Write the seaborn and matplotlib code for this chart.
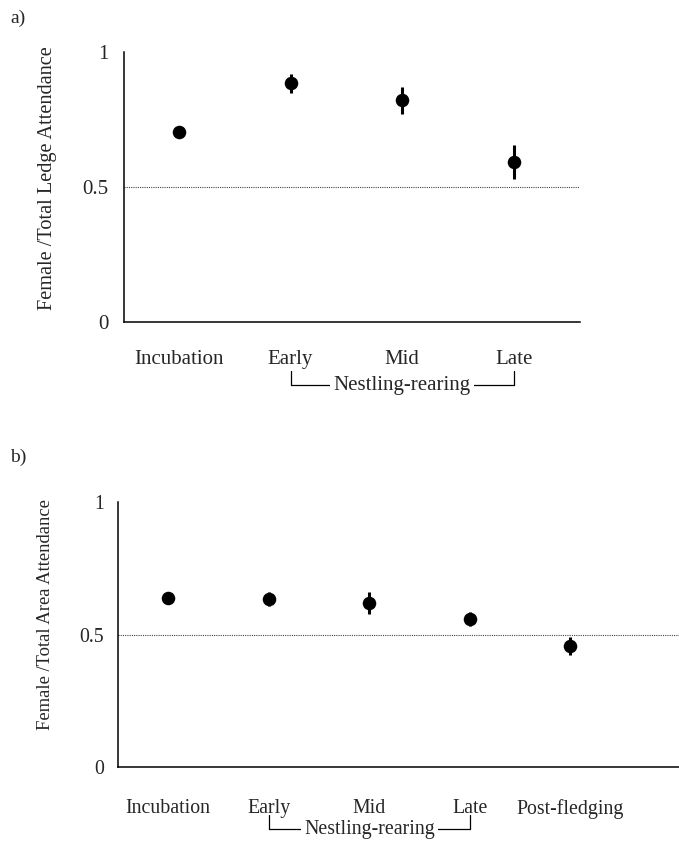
import matplotlib
matplotlib.use("Agg")
import matplotlib.pyplot as plt
import matplotlib.transforms as mtransforms
import seaborn as sns

# ---- data ----
stages_a = ["Incubation", "Early", "Mid", "Late"]
ledge_mean = [0.704, 0.885, 0.822, 0.593]
ledge_err = [0.018, 0.035, 0.050, 0.063]

stages_b = ["Incubation", "Early", "Mid", "Late", "Post-fledging"]
area_mean = [0.638, 0.634, 0.619, 0.558, 0.457]
area_err = [0.012, 0.028, 0.040, 0.027, 0.034]

yticks = [0, 0.5, 1]
ytick_labels = ["0", "0.5", "1"]
ylabel_a = "Female /Total Ledge Attendance"
ylabel_b = "Female /Total Area Attendance"
bracket_label = "Nestling-rearing"

sns.set_style("white")
plt.rcParams["font.family"] = ["Liberation Serif", "DejaVu Serif"]

fig = plt.figure(figsize=(6.79, 8.48), dpi=100)
H = 848.0
W = 679.0

ax_a = fig.add_axes([124 / W, 1 - 322 / H, (580 - 124) / W, 270 / H])
ax_b = fig.add_axes([118 / W, 1 - 767 / H, (679 - 118) / W, 265 / H])


def draw(ax, cats, means, errs, ylabel, xlim, panel, panel_y,
         fs, ylab_fs, ypad, xpad, ylab_xy):
    ax.axhline(0.5, color="#444444", linestyle=(0, (1, 1)), linewidth=0.8, zorder=1)
    ax.errorbar(cats, means, yerr=errs, fmt="none", ecolor="black",
                elinewidth=2.2, capsize=0, zorder=2)
    sns.scatterplot(x=cats, y=means, ax=ax, color="black", s=95,
                    edgecolor="black", linewidth=0, zorder=3)
    ax.set_ylim(0, 1.0)
    ax.set_xlim(*xlim)
    ax.set_yticks(yticks)
    ax.set_yticklabels(ytick_labels)
    ax.tick_params(axis="both", length=0, labelsize=fs)
    ax.tick_params(axis="x", pad=xpad)
    ax.tick_params(axis="y", pad=ypad)
    for s in ["top", "right"]:
        ax.spines[s].set_visible(False)
    for s in ["left", "bottom"]:
        ax.spines[s].set_color("black")
        ax.spines[s].set_linewidth(1.1)
    ax.set_ylabel(ylabel, fontsize=ylab_fs, va="center")
    ax.yaxis.set_label_coords(*ylab_xy)
    ax.set_xlabel("")
    fig.text(10 / W, 1 - panel_y / H, panel, fontsize=14, va="center", ha="left")

    # bracket for nestling-rearing (Early .. Late), label centered at Mid
    trans = mtransforms.blended_transform_factory(ax.transData, ax.transAxes)
    i0 = cats.index("Early")
    i1 = cats.index("Late")
    im = cats.index("Mid")
    y_top, y_bot = -0.18, -0.235
    ax.plot([i0, i0, i1, i1], [y_top, y_bot, y_bot, y_top], color="black",
            linewidth=0.9, transform=trans, clip_on=False)
    ax.text(im, y_bot, bracket_label, transform=trans, ha="center", va="center",
            fontsize=fs, bbox=dict(facecolor="white", edgecolor="none", pad=2.5))


draw(ax_a, stages_a, ledge_mean, ledge_err, ylabel_a, (-0.49, 3.59), "a)", 18,
     15, 14.6, 11, 20, (-0.167, 0.533))
draw(ax_b, stages_b, area_mean, area_err, ylabel_b, (-0.5, 5.08), "b)", 457,
     14.3, 13.4, 10, 23, (-0.130, 0.577))

fig.savefig("out.png", dpi=100, facecolor="white")
